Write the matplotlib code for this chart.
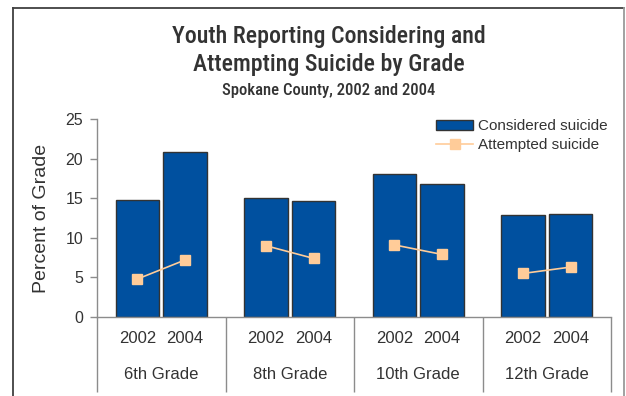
"""
Youth reporting considering and attempting suicide by grade (Spokane County).
Grouped bars for "considered", connected squares for "attempted".
"""

import matplotlib
matplotlib.use("Agg")

import matplotlib.pyplot as plt
import numpy as np
from matplotlib import font_manager
from matplotlib.lines import Line2D
from matplotlib.patches import Patch
from matplotlib.transforms import blended_transform_factory

# -- Data ---------------------------------------------------------------------
grades = ["6th Grade", "8th Grade", "10th Grade", "12th Grade"]
years = ["2002", "2004"]
considered_2002 = [14.8, 15.0, 18.0, 12.9]
considered_2004 = [20.8, 14.7, 16.8, 13.0]
attempted_2002 = [4.8, 9.0, 9.1, 5.5]
attempted_2004 = [7.2, 7.4, 7.9, 6.3]
y_ticks = [0, 5, 10, 15, 20, 25]

# -- Fonts --------------------------------------------------------------------
installed = {f.name for f in font_manager.fontManager.ttflist}
body_font = "Liberation Sans" if "Liberation Sans" in installed else "DejaVu Sans"
title_font = body_font
for cand in ["Liberation Sans Narrow", "DejaVu Sans Condensed", "Roboto Condensed"]:
    if cand in installed:
        title_font = cand
        break
plt.rcParams["font.family"] = [body_font, "DejaVu Sans"]

text_color = "#333333"
bar_color = "#00509F"
att_color = "#FFCC99"
axis_gray = "#8C8C8C"

# -- Figure -------------------------------------------------------------------
W, H = 626, 396
fig = plt.figure(figsize=(W / 100, H / 100), dpi=100)
ax = fig.add_axes([97 / W, 1 - 317 / H, (611 - 97) / W, (317 - 119) / H])

x = np.arange(len(grades))
width = 0.34
offset = 0.185

ax.bar(x - offset, considered_2002, width, color=bar_color, edgecolor="#333333", linewidth=1.0, zorder=2)
ax.bar(x + offset, considered_2004, width, color=bar_color, edgecolor="#333333", linewidth=1.0, zorder=2)

for i in range(len(grades)):
    ax.plot([x[i] - offset, x[i] + offset], [attempted_2002[i], attempted_2004[i]],
            color=att_color, lw=1.2, marker="s", markersize=7,
            markerfacecolor=att_color, markeredgecolor=att_color, zorder=3)

ax.set_xlim(-0.5, len(grades) - 0.5)
ax.set_ylim(0, 25)
ax.set_yticks(y_ticks)
ax.tick_params(axis="y", direction="out", length=5, width=1, color=axis_gray,
               labelsize=11.5, labelcolor=text_color, pad=5)

# x-axis: no major ticks, long minor ticks as group separators
ax.set_xticks([])
ax.set_xticks(np.arange(-0.5, len(grades)), minor=True)
ax.tick_params(axis="x", which="minor", direction="out", length=54, width=1, color=axis_gray)
ax.tick_params(axis="x", which="major", length=0)

for s in ["top", "right"]:
    ax.spines[s].set_visible(False)
for s in ["left", "bottom"]:
    ax.spines[s].set_color(axis_gray)
    ax.spines[s].set_linewidth(1)

trans = blended_transform_factory(ax.transData, ax.transAxes)
for i in range(len(grades)):
    for j, off in enumerate([-offset, offset]):
        ax.text(x[i] + off, -0.11, years[j], transform=trans, ha="center", va="center",
                fontsize=12, color=text_color)
    ax.text(x[i], -0.29, grades[i], transform=trans, ha="center", va="center",
            fontsize=12, color=text_color)

ax.set_ylabel("Percent of Grade", fontsize=14, color=text_color, labelpad=11)

# Legend
handles = [
    Patch(facecolor=bar_color, edgecolor="#333333", linewidth=1.0, label="Considered suicide"),
    Line2D([0], [0], color=att_color, lw=1.2, marker="s", markersize=7,
           markerfacecolor=att_color, markeredgecolor=att_color, label="Attempted suicide"),
]
ax.legend(handles=handles, loc="upper right", bbox_to_anchor=(1.0, 1.015), frameon=False,
          fontsize=11, handlelength=2.4, handleheight=0.65, labelspacing=0.35,
          handletextpad=0.35, borderaxespad=0, borderpad=0.2, labelcolor=text_color)

# Titles
tfam = [title_font, "DejaVu Sans"]
tx = 329 / W
fig.text(tx, 1 - 36 / H, "Youth Reporting Considering and", ha="center", va="center",
         fontsize=17.2, fontweight="medium", color=text_color, family=tfam)
fig.text(tx, 1 - 65 / H, "Attempting Suicide by Grade", ha="center", va="center",
         fontsize=17.2, fontweight="medium", color=text_color, family=tfam)
fig.text(tx, 1 - 90 / H, "Spokane County, 2002 and 2004", ha="center", va="center",
         fontsize=12, fontweight="medium", color=text_color, family=tfam)

# Outer frame (bottom edge cut off in the original)
fig.add_artist(Line2D([12.5 / W, 12.5 / W], [0, 1 - 7.5 / H], transform=fig.transFigure,
                      color="#404040", lw=1.3))
fig.add_artist(Line2D([12.5 / W, 624 / W], [1 - 7.5 / H, 1 - 7.5 / H], transform=fig.transFigure,
                      color="#404040", lw=1.3))
fig.add_artist(Line2D([624 / W, 624 / W], [0, 1 - 7.5 / H], transform=fig.transFigure,
                      color="#9A9A9A", lw=1.3))

fig.savefig("out.png", dpi=100, facecolor="white")
plt.close(fig)
